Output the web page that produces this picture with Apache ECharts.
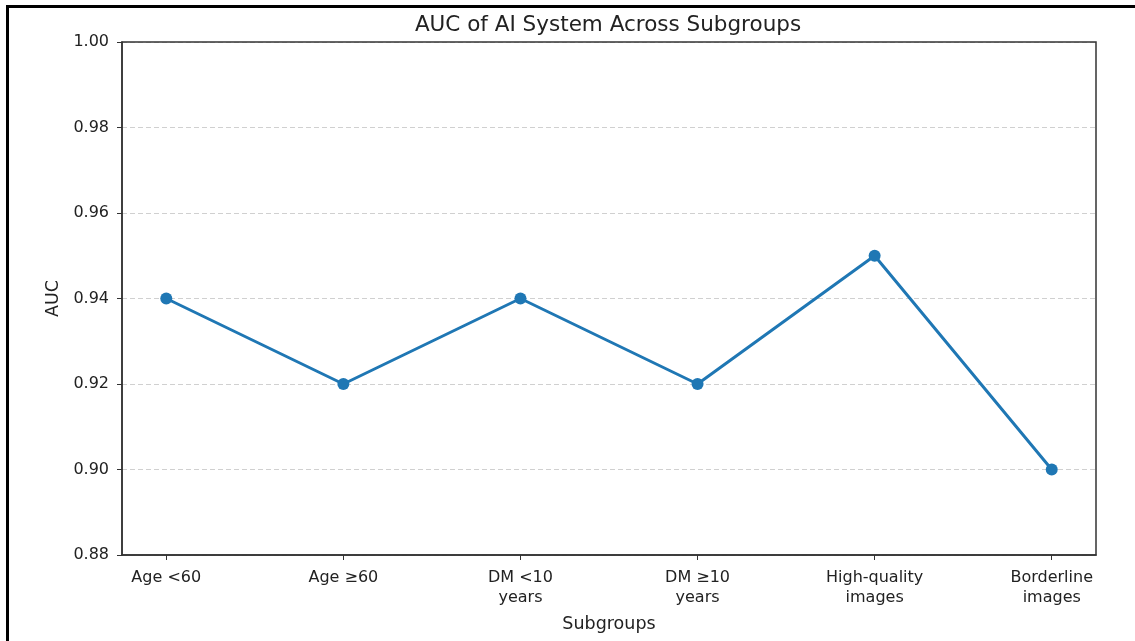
<!DOCTYPE html>
<html>
<head>
<meta charset="utf-8">
<script src="https://cdn.jsdelivr.net/npm/echarts@6/dist/echarts.min.js"></script>
<style>
html,body{margin:0;padding:0;background:#fff;overflow:hidden;}
#frame{position:absolute;left:6px;top:5px;width:1129px;height:636px;border-top:3px solid #000;border-left:3px solid #000;box-sizing:border-box;pointer-events:none;z-index:10;}
#chart{position:absolute;left:0;top:0;width:1135px;height:641px;}
</style>
</head>
<body>
<div id="chart"></div>
<div id="frame"></div>
<script>
const categories = ["Age <60", "Age \u226560", "DM <10\nyears", "DM \u226510\nyears", "High-quality\nimages", "Borderline\nimages"];
const aucValues = [0.94, 0.92, 0.94, 0.92, 0.95, 0.90];
const yTicks = [0.88, 0.90, 0.92, 0.94, 0.96, 0.98, 1.00];

const font = "DejaVu Sans";
const chart = echarts.init(document.getElementById('chart'));
const idx = categories.map((c, i) => i);
chart.setOption({
  animation: false,
  title: {
    text: "AUC of AI System Across Subgroups",
    left: 603, top: 9, textAlign: 'center',
    textStyle: {fontFamily: font, fontSize: 21.5, fontWeight: 'normal', color: '#222'}
  },
  grid: {left: 122, right: 39, top: 42, bottom: 86, outerBoundsMode: 'none', containLabel: false},
  xAxis: {
    type: 'value', min: -0.25, max: 5.25,
    name: 'Subgroups', nameLocation: 'middle', nameGap: 60,
    nameTextStyle: {fontFamily: font, fontSize: 17.5, color: '#222'},
    axisLine: {show: true, onZero: false, lineStyle: {color: '#333', width: 1.5}},
    axisTick: {show: true, customValues: idx, length: 5, lineStyle: {color: '#333'}},
    axisLabel: {customValues: idx, formatter: v => categories[Math.round(v)] || '',
      fontFamily: font, fontSize: 16, color: '#222', lineHeight: 20, margin: 13},
    splitLine: {show: false}
  },
  yAxis: {
    type: 'value', min: 0.88, max: 1.00, interval: 0.02,
    name: 'AUC', nameLocation: 'middle', nameGap: 56, nameRotate: 90,
    nameTextStyle: {fontFamily: font, fontSize: 17.5, color: '#222'},
    axisLine: {show: true, onZero: false, lineStyle: {color: '#333', width: 1.5}},
    axisTick: {show: true, length: 5, lineStyle: {color: '#333'}},
    axisLabel: {customValues: yTicks, formatter: v => v.toFixed(2), fontFamily: font, fontSize: 16, color: '#222', margin: 13},
    splitLine: {show: true, lineStyle: {color: '#d0d0d0', type: [5, 3], width: 1}}
  },
  graphic: [{
    type: 'rect', shape: {x: 122, y: 42, width: 974, height: 513},
    style: {fill: 'none', stroke: '#333', lineWidth: 1.5}, z: 5, silent: true
  }],
  series: [{
    type: 'line',
    data: aucValues.map((v, i) => [i, v]),
    symbol: 'circle', symbolSize: 12,
    lineStyle: {color: '#1f77b4', width: 3},
    itemStyle: {color: '#1f77b4'},
    z: 3
  }]
});
</script>
</body>
</html>
